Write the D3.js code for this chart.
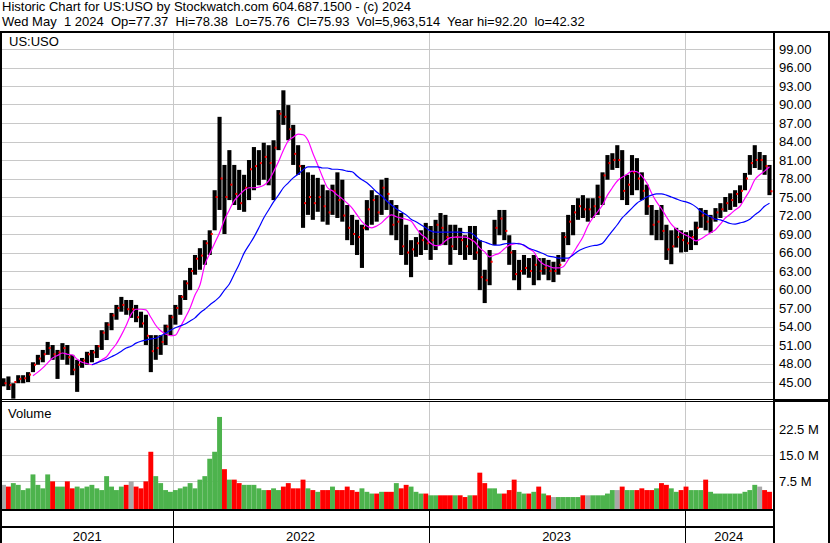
<!DOCTYPE html>
<html><head><meta charset="utf-8">
<script src="https://cdn.jsdelivr.net/npm/d3@7"></script>
<style>
html,body{margin:0;padding:0;background:#fff;}
svg{display:block;}
text{font-family:"Liberation Sans",Arial,sans-serif;font-size:13px;fill:#000;}
</style>
</head><body>
<svg id="c" width="830" height="543"></svg>
<script>
// ---------- DATA (weekly) ----------
const headerLine1 = "Historic Chart for US:USO by Stockwatch.com 604.687.1500 - (c) 2024";
const headerLine2 = "Wed May  1 2024  Op=77.37  Hi=78.38  Lo=75.76  Cl=75.93  Vol=5,963,514  Year hi=92.20  lo=42.32";
const symbolLabel = "US:USO";
const volumeLabel = "Volume";
const yearLabels = ["2021", "2022", "2023", "2024"];
const priceTicks = [45, 48, 51, 54, 57, 60, 63, 66, 69, 72, 75, 78, 81, 84, 87, 90, 93, 96, 99];
const volumeTicks = [7.5, 15, 22.5];   // millions

const highs = [
45.6,45.9,44.8,46.1,46.1,46.6,48.2,49.4,50.2,51.5,
51.0,50.2,51.3,51.0,49.4,48.6,48.9,49.9,50.2,51.0,
53.4,54.7,56.2,57.5,58.8,58.3,58.3,57.5,56.4,55.9,
52.6,52.6,52.6,54.3,55.9,57.5,59.1,61.5,63.5,65.6,
66.7,68.0,69.6,76.1,88.0,80.2,82.6,80.2,79.4,78.6,
81.0,83.1,82.6,83.8,83.4,84.2,89.1,92.3,89.9,86.7,
83.4,80.2,79.0,78.6,78.1,77.0,76.1,77.0,79.0,77.8,
73.7,72.1,71.3,70.5,74.5,76.1,75.3,77.8,78.1,74.5,
73.7,72.4,70.5,68.0,68.5,69.6,70.8,70.3,71.3,72.4,
72.1,70.5,70.5,70.0,68.8,70.3,70.3,68.0,63.2,66.4,
71.3,72.9,72.9,68.8,66.4,64.8,65.6,65.1,65.6,65.1,
65.1,64.8,64.5,65.6,69.3,72.1,73.7,74.8,75.3,74.8,
74.8,77.0,79.0,81.8,82.1,83.4,82.6,78.6,81.8,81.3,
79.0,77.0,73.7,72.9,73.7,70.5,69.6,70.0,69.6,69.3,
69.6,71.0,73.2,72.9,72.1,73.2,74.0,75.0,75.6,76.1,
76.9,78.9,81.8,83.4,82.3,81.8,80.2];
const lows = [
44.3,43.7,42.3,44.8,44.8,45.0,46.6,47.8,48.2,49.4,
48.6,45.5,48.6,47.8,46.1,43.4,47.3,47.8,48.2,48.9,
50.2,51.8,53.4,55.1,56.4,55.9,55.4,54.7,53.8,51.0,
46.6,48.6,49.4,51.0,52.6,54.3,55.9,58.3,59.9,62.4,
63.2,64.0,65.6,69.6,72.9,69.0,74.5,73.7,72.9,72.6,
74.5,76.1,76.9,77.8,76.9,74.5,82.6,86.7,84.2,80.2,
78.6,70.0,72.1,71.3,72.6,71.0,70.5,72.1,71.6,71.0,
68.0,67.2,65.6,63.5,69.6,70.5,71.0,72.1,72.9,68.8,
68.0,65.6,64.0,62.0,65.3,65.6,66.4,64.8,66.4,67.2,
67.2,64.0,66.4,65.6,64.8,65.6,64.8,59.9,57.8,60.7,
67.2,68.8,68.0,64.0,61.5,59.9,62.4,61.9,60.7,61.5,
62.4,61.5,61.2,62.4,64.5,67.2,68.8,71.3,71.6,71.0,
71.6,72.1,73.7,77.8,79.4,79.7,74.5,73.7,75.3,76.1,
74.5,72.1,68.8,68.0,68.0,64.8,64.1,66.8,66.0,66.1,
66.4,67.2,70.0,69.6,69.2,71.0,71.6,72.6,72.9,73.4,
74.0,76.1,78.6,79.7,79.4,78.6,75.3];
const closes = [
44.8,44.5,45.0,45.5,45.6,46.2,47.8,48.8,49.5,50.5,
49.5,49.8,50.5,49.0,47.0,47.8,48.5,49.5,49.8,50.8,
53.0,54.3,55.8,57.0,57.5,56.8,56.8,55.5,54.5,52.5,
50.0,50.5,51.5,54.0,55.5,57.0,58.8,61.0,63.0,65.0,
65.5,67.5,69.0,75.0,78.0,75.0,77.0,75.5,74.0,76.5,
79.5,80.0,80.5,81.5,80.5,83.0,88.5,88.0,86.0,82.0,
80.0,74.0,75.0,74.0,75.0,73.5,72.5,76.0,74.5,72.0,
70.0,69.0,68.5,70.0,73.0,74.5,72.5,76.5,75.5,70.5,
71.0,67.0,66.0,66.5,67.5,68.0,67.5,68.0,70.5,70.0,
68.5,67.0,68.5,68.0,67.0,68.0,66.0,62.0,61.5,64.5,
70.0,71.5,69.5,66.0,62.5,63.0,63.5,63.0,64.0,63.0,
63.5,63.0,63.0,64.0,68.5,71.0,72.5,73.5,73.0,73.0,
73.5,75.0,78.5,80.5,81.0,81.0,76.0,77.0,79.0,78.0,
76.0,73.5,70.5,71.0,69.5,66.5,67.0,68.5,68.0,67.5,
68.5,70.0,72.0,71.0,71.5,72.5,73.0,74.0,74.5,75.5,
76.0,78.0,80.5,81.0,81.0,80.0,75.93];
const volumes = [ // millions
6.5,6,7,6.5,5,5.5,9.5,6.5,5.5,9.5,
7.5,6,6,7.5,5.5,6,5.5,6,6.5,5.5,
5,9,6,5,6,6.5,7.5,6,5.5,7.5,
16,9,7,5,4.5,5,5.5,6,7,5.5,
8,9,14,16,26,11,8,8,7,6.5,
6.5,6.5,5.5,5,5,5.5,5,6,7,5.5,
5.5,8,5.5,5,4.5,5,5,6,5,5,
6,5,4.5,5.5,4.5,4,4,4.5,4.5,4.5,
7,5.5,6.5,6,4.5,4,4,3.5,3.5,3.5,
3.5,3.5,3.5,3.5,3,3.5,3.5,10,7,5.5,
5.5,4,4,5,8,4.5,4,4,4.5,6,
4,3.5,3,3,3,3,3,3,3.5,3.5,
3.5,3.5,3.5,4,5,5,6,5,5,5,
5.5,5,5,5.5,7,6.5,5.5,4.5,5,6,
5,5,5,8,4.5,4,4,4,4,4,
4,4.5,5,6.5,6,5,4.5];
// short moving average (magenta), starts at week 6
const maShort = [
46.0,46.6,47.3,48.1,48.9,49.3,49.7,49.5,49.4,48.7,
48.2,48.0,47.8,48.1,48.6,49.1,50.2,51.2,52.6,54.2,
56.0,56.8,56.8,56.7,55.5,54.2,53.3,52.8,52.5,52.6,
53.9,55.4,57.0,59.1,60.7,64.0,65.8,67.5,69.2,71.3,
72.9,74.4,75.3,76.1,76.5,76.5,76.6,76.9,77.6,79.1,
80.7,82.6,84.1,84.7,85.2,85.1,84.2,82.1,80.2,78.2,
76.5,76.0,75.3,74.7,74.0,73.2,72.1,71.0,70.3,70.0,
70.3,70.8,71.6,72.1,71.8,71.6,71.4,71.1,70.0,69.0,
68.4,67.5,67.1,67.2,67.9,68.4,68.5,68.5,68.5,68.2,
67.7,66.7,66.1,65.3,65.6,65.9,66.6,67.2,67.4,67.5,
67.1,66.6,66.1,64.8,64.1,63.8,63.5,63.5,63.7,64.8,
65.9,67.2,68.5,70.3,71.6,72.6,73.7,75.3,76.5,77.6,
78.2,78.7,79.2,79.1,78.4,77.3,75.6,74.2,73.1,71.8,
70.6,69.8,69.2,68.8,68.4,67.9,68.2,68.7,69.2,69.7,
70.6,71.6,72.2,72.9,73.5,74.8,76.1,77.8,78.6,79.2,79.9];
const maShortStart = 6;
// long moving average (blue), starts at week 18
const maLong = [
47.8,48.1,48.4,48.7,49.1,49.5,50.0,50.5,50.8,51.3,
51.6,51.8,52.0,52.1,52.5,52.9,53.4,53.8,54.1,54.4,
54.9,55.4,56.2,56.8,57.5,58.1,58.8,59.9,60.9,62.5,
64.1,65.9,67.2,68.5,70.0,71.6,72.9,74.2,75.3,76.5,
77.3,78.1,78.7,79.4,79.9,79.9,79.9,79.7,79.7,79.5,
79.5,79.4,79.2,79.1,78.4,77.8,77.3,76.6,75.8,75.2,
74.4,73.7,73.1,72.6,72.1,71.4,71.0,70.5,70.0,69.5,
69.3,69.3,69.3,69.3,69.3,69.3,69.2,69.2,68.7,68.0,
67.7,67.4,67.2,67.2,67.4,67.5,67.5,67.4,67.2,66.7,
66.4,66.1,65.8,65.4,65.3,65.1,65.1,65.1,65.6,66.2,
66.6,66.9,67.1,67.2,67.5,68.5,69.5,70.5,71.6,72.4,
73.2,74.0,74.5,75.0,75.3,75.5,75.5,75.3,75.0,74.7,
74.4,74.2,73.9,73.4,72.7,72.2,71.8,71.4,71.3,71.0,
70.7,70.6,70.8,71.0,71.4,72.1,72.7,73.5,74.0];
const maLongStart = 18;

// ---------- CHART ----------
const W = 830, H = 543;
const L = 2, R = 773;
const priceTop = 33, priceBottom = 399;
const volTop = 402, volBottom = 509;

const svg = d3.select("#c");
svg.append("rect").attr("width", W).attr("height", H).attr("fill", "#fff");

const mondays = d3.timeMonday.range(new Date(2021, 4, 3), new Date(2024, 4, 2));
const n = Math.min(mondays.length, highs.length, lows.length, closes.length, volumes.length);
const weeks = d3.range(n).map(i => ({
  date: d3.timeDay.offset(mondays[i], 2),
  hi: highs[i], lo: lows[i], cl: closes[i], vol: volumes[i],
  prev: i > 0 ? closes[i - 1] : closes[i],
  mS: i >= maShortStart ? maShort[i - maShortStart] : null,
  mL: i >= maLongStart ? maLong[i - maLongStart] : null
}));

const x = d3.scaleTime().domain([new Date(2021, 3, 30), new Date(2024, 4, 6)]).range([0, R]);
const y = d3.scaleLinear().domain([45, 99]).range([382, 49]);
const yv = d3.scaleLinear().domain([0, 30]).range([507.5, 403]);
const step = x(new Date(2021, 4, 12)) - x(new Date(2021, 4, 5));

const yearBounds = x.ticks(d3.timeYear.every(1)).filter(d => x(d) > L && x(d) < R);

// price gridlines
const gP = svg.append("g");
gP.selectAll("line.h").data(priceTicks).join("line")
  .attr("x1", L).attr("x2", R)
  .attr("y1", d => Math.round(y(d)) + 0.5).attr("y2", d => Math.round(y(d)) + 0.5)
  .attr("stroke", "#c8c8c8").attr("stroke-width", 1);
gP.selectAll("line.v").data(yearBounds).join("line")
  .attr("x1", d => Math.round(x(d)) + 0.5).attr("x2", d => Math.round(x(d)) + 0.5)
  .attr("y1", priceTop).attr("y2", priceBottom)
  .attr("stroke", "#c8c8c8");

// volume gridlines
const gV = svg.append("g");
gV.selectAll("line.h").data(volumeTicks).join("line")
  .attr("x1", L).attr("x2", R)
  .attr("y1", d => Math.round(yv(d)) + 0.5).attr("y2", d => Math.round(yv(d)) + 0.5)
  .attr("stroke", "#c8c8c8");
gV.selectAll("line.v").data(yearBounds).join("line")
  .attr("x1", d => Math.round(x(d)) + 0.5).attr("x2", d => Math.round(x(d)) + 0.5)
  .attr("y1", volTop).attr("y2", volBottom)
  .attr("stroke", "#c8c8c8");

// volume bars
svg.append("g").selectAll("rect").data(weeks).join("rect")
  .attr("x", d => x(d.date) - step / 2)
  .attr("width", step)
  .attr("y", d => yv(d.vol))
  .attr("height", d => volBottom - yv(d.vol))
  .attr("fill", d => d.cl > d.prev ? "#4db34d" : (d.cl < d.prev ? "#ff0000" : "#a8a8a8"));

// price bars
const bw = step - 0.8;
svg.append("g").selectAll("rect").data(weeks).join("rect")
  .attr("x", d => x(d.date) - bw / 2)
  .attr("width", bw)
  .attr("y", d => y(d.hi))
  .attr("height", d => Math.max(1, y(d.lo) - y(d.hi)))
  .attr("fill", "#000");
svg.append("g").selectAll("rect").data(weeks).join("rect")
  .attr("x", d => x(d.date) + 1)
  .attr("width", 2).attr("height", 2)
  .attr("y", d => y(d.cl) - 1)
  .attr("fill", "#ff0000");

// moving averages
const lineS = d3.line().defined(d => d.mS != null).x(d => x(d.date)).y(d => y(d.mS)).curve(d3.curveMonotoneX);
const lineL = d3.line().defined(d => d.mL != null).x(d => x(d.date)).y(d => y(d.mL)).curve(d3.curveMonotoneX);
svg.append("path").attr("d", lineS(weeks)).attr("fill", "none").attr("stroke", "#ff00ff").attr("stroke-width", 1.2);
svg.append("path").attr("d", lineL(weeks)).attr("fill", "none").attr("stroke", "#0000ff").attr("stroke-width", 1.2);

// frame lines
const black = (x1, y1, x2, y2, w) => svg.append("line").attr("x1", x1).attr("y1", y1).attr("x2", x2).attr("y2", y2)
  .attr("stroke", "#000").attr("stroke-width", w || 1);
black(0, 32, W, 32, 2);          // under header
black(1, 31, 1, H, 2);           // left border
black(R + 1, 31, R + 1, H, 2);   // right axis line
black(W - 1, 31, W - 1, H, 2);   // right edge
black(0, 399.5, R, 399.5, 1);
black(0, 401.5, R, 401.5, 1);
black(R, 400.5, W, 400.5, 3);
black(0, 510, R, 510, 2);
black(0, 527, R, 527, 2);
// year boundary ticks in the bottom strips
svg.append("g").selectAll("line").data(yearBounds).join("line")
  .attr("x1", d => Math.round(x(d)) + 0.5).attr("x2", d => Math.round(x(d)) + 0.5)
  .attr("y1", 511).attr("y2", H)
  .attr("stroke", "#000");

// texts
const t = (str, tx, ty, anchor) => svg.append("text").attr("x", tx).attr("y", ty)
  .attr("text-anchor", anchor || "start").style("white-space", "pre").text(str);
t(headerLine1, 2, 11);
t(headerLine2, 2, 26);
t(symbolLabel, 9, 46);
t(volumeLabel, 8, 418);

svg.append("g").selectAll("text").data(priceTicks).join("text")
  .attr("x", 779).attr("y", d => y(d) + 4.5)
  .text(d => d.toFixed(2));
svg.append("g").selectAll("text").data(volumeTicks).join("text")
  .attr("x", 779).attr("y", d => yv(d) + 4.5)
  .text(d => d.toFixed(1) + " M");

// year labels centred in their segments
const segEdges = [L, ...yearBounds.map(d => x(d)), R];
svg.append("g").selectAll("text").data(yearLabels).join("text")
  .attr("x", (d, i) => (segEdges[i] + segEdges[i + 1]) / 2)
  .attr("y", 541).attr("text-anchor", "middle")
  .text(d => d);
</script>
</body></html>
